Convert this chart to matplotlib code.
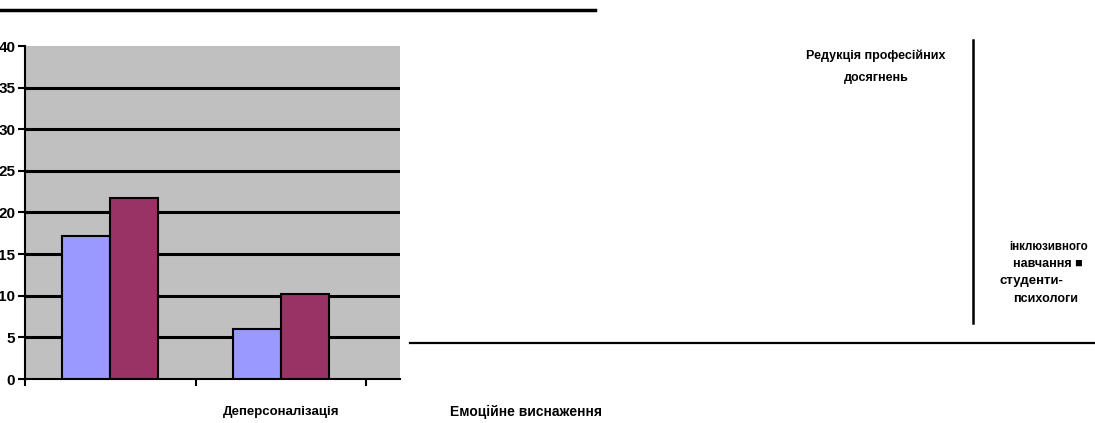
import matplotlib
matplotlib.use("Agg")
import matplotlib.pyplot as plt
from matplotlib.lines import Line2D
from matplotlib import font_manager
import numpy as np

# ---- data ----
categories = ["Емоційне виснаження", "Деперсоналізація", "Редукція професійних\nдосягнень"]
series_names = ["інклюзивного\nнавчання", "студенти-\nпсихологи"]
series_a = [17.2, 6.0]      # blue bars
series_b = [21.7, 10.2]     # maroon bars
y_ticks = [0, 5, 10, 15, 20, 25, 30, 35, 40]

names = {f.name for f in font_manager.fontManager.ttflist}
FONT = "Liberation Sans Narrow" if "Liberation Sans Narrow" in names else "Liberation Sans"
plt.rcParams['font.family'] = [FONT, 'DejaVu Sans']

W, H = 1095, 423
fig = plt.figure(figsize=(W / 100, H / 100), dpi=100)

def fx(x):
    return x / W

def fy(y):
    return 1 - y / H

# axes in pixel coordinates
L, R, T, B = 25, 400, 46, 379
ax = fig.add_axes([fx(L), fy(B), fx(R) - fx(L), fy(T) - fy(B)])
ax.set_facecolor("#c0c0c0")

cat_w = 170.5  # pixels per category
ax.set_xlim(-0.5, -0.5 + (R - L) / cat_w)
ax.set_ylim(0, 40)

bw = 48 / cat_w
x = np.arange(len(series_a))
ax.bar(x - bw / 2, series_a, width=bw, color="#9999ff", edgecolor="black", linewidth=1.5, zorder=3)
ax.bar(x + bw / 2, series_b, width=bw, color="#993366", edgecolor="black", linewidth=1.5, zorder=3)

# gridlines (not at 0 or top)
for v in y_ticks[1:-1]:
    ax.axhline(v, color="black", linewidth=2.2, zorder=1)

for s in ["top", "right"]:
    ax.spines[s].set_visible(False)
ax.spines["left"].set_linewidth(1.5)
ax.spines["bottom"].set_linewidth(1.5)

ax.set_yticks(y_ticks)
ax.set_yticklabels([str(v) for v in y_ticks], fontsize=11, fontweight="bold")
ax.tick_params(axis="y", direction="out", length=5, width=1.5, pad=2)

ax.set_xticks([-0.5, 0.5, 1.5])
ax.set_xticklabels([])
ax.tick_params(axis="x", direction="out", length=5, width=1.5)

# category labels (scattered as in the scan)
fig.text(fx(281), fy(412), categories[1], ha="center", va="center", fontsize=9.5, fontweight="bold")
fig.text(fx(526), fy(412), categories[0], ha="center", va="center", fontsize=10, fontweight="bold")
fig.text(fx(876), fy(67), categories[2], ha="center", va="center", fontsize=9, fontweight="bold",
         linespacing=2.1)

# legend fragments
leg_a = series_names[0].split("\n")
leg_b = series_names[1].split("\n")
fig.text(fx(1009), fy(247), leg_a[0], ha="left", va="center", fontsize=8.3, fontweight="bold")
fig.text(fx(1013), fy(264), leg_a[1] + " \u25a0", ha="left", va="center", fontsize=9, fontweight="bold")
fig.text(fx(999), fy(281), leg_b[0], ha="left", va="center", fontsize=9.5, fontweight="bold")
fig.text(fx(1013), fy(299), leg_b[1], ha="left", va="center", fontsize=9, fontweight="bold")

# scan frame lines
fig.add_artist(Line2D([fx(0), fx(595)], [fy(10), fy(10)], color="black", linewidth=2.5))
fig.add_artist(Line2D([fx(410), fx(1095)], [fy(343), fy(343)], color="black", linewidth=1.6))
fig.add_artist(Line2D([fx(973), fx(973)], [fy(40), fy(323)], color="black", linewidth=1.8))

fig.savefig("out.png", dpi=100)
